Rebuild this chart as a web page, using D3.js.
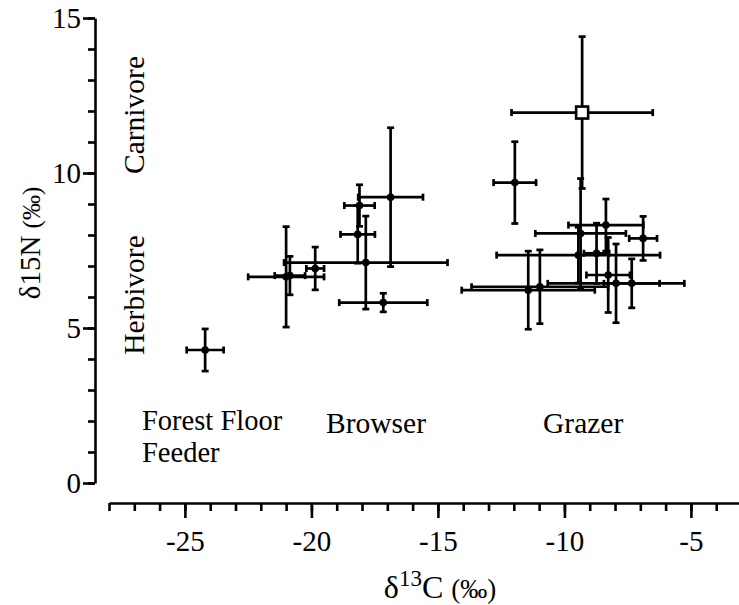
<!DOCTYPE html>
<html><head><meta charset="utf-8">
<script src="https://cdn.jsdelivr.net/npm/d3@7"></script>
<style>body{margin:0;background:#fff}</style>
</head><body>
<svg id="chart" width="739" height="605"></svg>
<script>
// ---- data (δ13C, δ15N means with ± errors) ----
const pointX = [-24.2, -21.0, -20.85, -19.85, -17.85, -16.87, -18.1, -18.17, -17.16,
                -11.96, -9.3, -11.43, -10.97, -8.36, -9.36, -6.89, -9.45, -8.73, -8.27, -7.96, -7.34];
const pointY = [4.29, 6.65, 6.69, 6.92, 7.11, 9.22, 8.95, 8.02, 5.82,
                9.69, 11.95, 6.22, 6.33, 8.32, 8.05, 7.89, 7.35, 7.41, 6.71, 6.44, 6.44];
const errX   = [0.73, 1.5, 0.6, 0.35, 3.23, 1.28, 0.6, 0.68, 1.74,
                0.84, 2.79, 2.63, 2.7, 1.48, 1.79, 0.55, 3.23, 0.5, 0.86, 2.7, 1.1];
const errY   = [0.68, 1.62, 0.62, 0.69, 1.5, 2.24, 0.67, 0.93, 0.3,
                1.32, 2.45, 1.26, 1.19, 0.84, 1.77, 0.71, 0.9, 0.97, 1.21, 1.27, 0.79];
const markerType = ["dot","dot","dot","dot","dot","dot","dot","dot","dot",
                "dot","square","dot","dot","dot","dot","dot","dot","dot","dot","dot","dot"];
const xMajorTicks = [-25, -20, -15, -10, -5];
const xMinorTicks = d3.range(-28, -3, 1);
const yMajorTicks = [0, 5, 10, 15];
const yMinorTicks = d3.range(0, 16, 1);
const groupLabels = ["Forest Floor", "Feeder", "Browser", "Grazer"];
const dietLabels = ["Carnivore", "Herbivore"];

const FONT = "'Liberation Serif','Times New Roman',serif";
const svg = d3.select("#chart");
const x = d3.scaleLinear().domain([-28, -3.1]).range([109, 739]);
const y = d3.scaleLinear().domain([0, 15]).range([483, 18]);
const axisY0 = 503, axisX0 = 95;

// ---- x axis ----
const gx = svg.append("g").attr("transform", `translate(0,${axisY0})`);
gx.append("g").call(d3.axisBottom(x).tickValues(xMinorTicks).tickSize(8).tickSizeOuter(0).tickFormat(""))
  .call(g => g.select(".domain").attr("stroke-width", 2.6))
  .call(g => g.selectAll(".tick line").attr("stroke-width", 2.6));
gx.append("g").call(d3.axisBottom(x).tickValues(xMajorTicks).tickSize(15).tickSizeOuter(0).tickPadding(12)
    .tickFormat(d => d < 0 ? "-" + Math.abs(d) : d))
  .call(g => g.select(".domain").remove())
  .call(g => g.selectAll(".tick line").attr("stroke-width", 2.6))
  .call(g => g.selectAll(".tick text").attr("font-family", FONT).attr("font-size", 29).attr("fill", "#000"));

// ---- y axis ----
const gy = svg.append("g").attr("transform", `translate(${axisX0},0)`);
gy.append("g").call(d3.axisLeft(y).tickValues(yMinorTicks).tickSize(7).tickSizeOuter(0).tickFormat(""))
  .call(g => g.select(".domain").attr("stroke-width", 2.6))
  .call(g => g.selectAll(".tick line").attr("stroke-width", 2.6));
gy.append("g").call(d3.axisLeft(y).tickValues(yMajorTicks).tickSize(12).tickSizeOuter(0).tickPadding(2))
  .call(g => g.select(".domain").remove())
  .call(g => g.selectAll(".tick line").attr("stroke-width", 2.6))
  .call(g => g.selectAll(".tick text").attr("font-family", FONT).attr("font-size", 29).attr("fill", "#000"));

// ---- axis titles ----
const xt = svg.append("text").attr("x", 440).attr("y", 598).attr("text-anchor", "middle")
  .attr("font-family", FONT).attr("font-size", 32).attr("fill", "#000");
xt.append("tspan").text("δ");
xt.append("tspan").attr("font-size", 23).attr("dy", -12).text("13");
xt.append("tspan").attr("dy", 12).text("C ");
xt.append("tspan").attr("font-size", 27).text("(‰)");

const yt = svg.append("text").attr("transform", "translate(40,243) rotate(-90)").attr("text-anchor", "middle")
  .attr("font-family", FONT).attr("font-size", 29).attr("fill", "#000");
yt.append("tspan").text("δ15N ");
yt.append("tspan").attr("font-size", 25).text("(‰)");

// ---- region labels ----
const lab = [
  {t: groupLabels[0], x: 142, y: 430, fs: 28.5},
  {t: groupLabels[1], x: 142, y: 462, fs: 28.5},
  {t: groupLabels[2], x: 326, y: 433, fs: 29.5},
  {t: groupLabels[3], x: 543, y: 433, fs: 29.5}
];
svg.selectAll("text.grp").data(lab).join("text").attr("class", "grp")
  .attr("x", d => d.x).attr("y", d => d.y).attr("font-family", FONT).attr("font-size", d => d.fs)
  .attr("fill", "#000").text(d => d.t);
const diet = [{t: dietLabels[0], cy: 115}, {t: dietLabels[1], cy: 295}];
svg.selectAll("text.diet").data(diet).join("text").attr("class", "diet")
  .attr("transform", d => `translate(144,${d.cy}) rotate(-90)`).attr("text-anchor", "middle")
  .attr("font-family", FONT).attr("font-size", 29.5).attr("fill", "#000").text(d => d.t);

// ---- error bars ----
const pts = pointX.map((v, i) => ({x: v, y: pointY[i], ex: errX[i], ey: errY[i], m: markerType[i]}));
const cap = 3.5;
const eb = svg.append("g").attr("stroke", "#000").attr("stroke-width", 2.7);
pts.forEach(p => {
  const cx = x(p.x), cy = y(p.y);
  const x1 = x(p.x - p.ex), x2 = x(p.x + p.ex), y1 = y(p.y + p.ey), y2 = y(p.y - p.ey);
  eb.append("line").attr("x1", x1).attr("x2", x2).attr("y1", cy).attr("y2", cy);
  eb.append("line").attr("x1", cx).attr("x2", cx).attr("y1", y1).attr("y2", y2);
  eb.append("line").attr("x1", x1).attr("x2", x1).attr("y1", cy - cap).attr("y2", cy + cap);
  eb.append("line").attr("x1", x2).attr("x2", x2).attr("y1", cy - cap).attr("y2", cy + cap);
  eb.append("line").attr("x1", cx - cap).attr("x2", cx + cap).attr("y1", y1).attr("y2", y1);
  eb.append("line").attr("x1", cx - cap).attr("x2", cx + cap).attr("y1", y2).attr("y2", y2);
});

// ---- markers ----
svg.append("g").selectAll("circle").data(pts.filter(p => p.m === "dot")).join("circle")
  .attr("cx", d => x(d.x)).attr("cy", d => y(d.y)).attr("r", 3.8).attr("fill", "#000");
svg.append("g").selectAll("rect").data(pts.filter(p => p.m === "square")).join("rect")
  .attr("x", d => x(d.x) - 6).attr("y", d => y(d.y) - 6).attr("width", 12).attr("height", 12)
  .attr("fill", "#fff").attr("stroke", "#000").attr("stroke-width", 2.6);
</script>
</body></html>
